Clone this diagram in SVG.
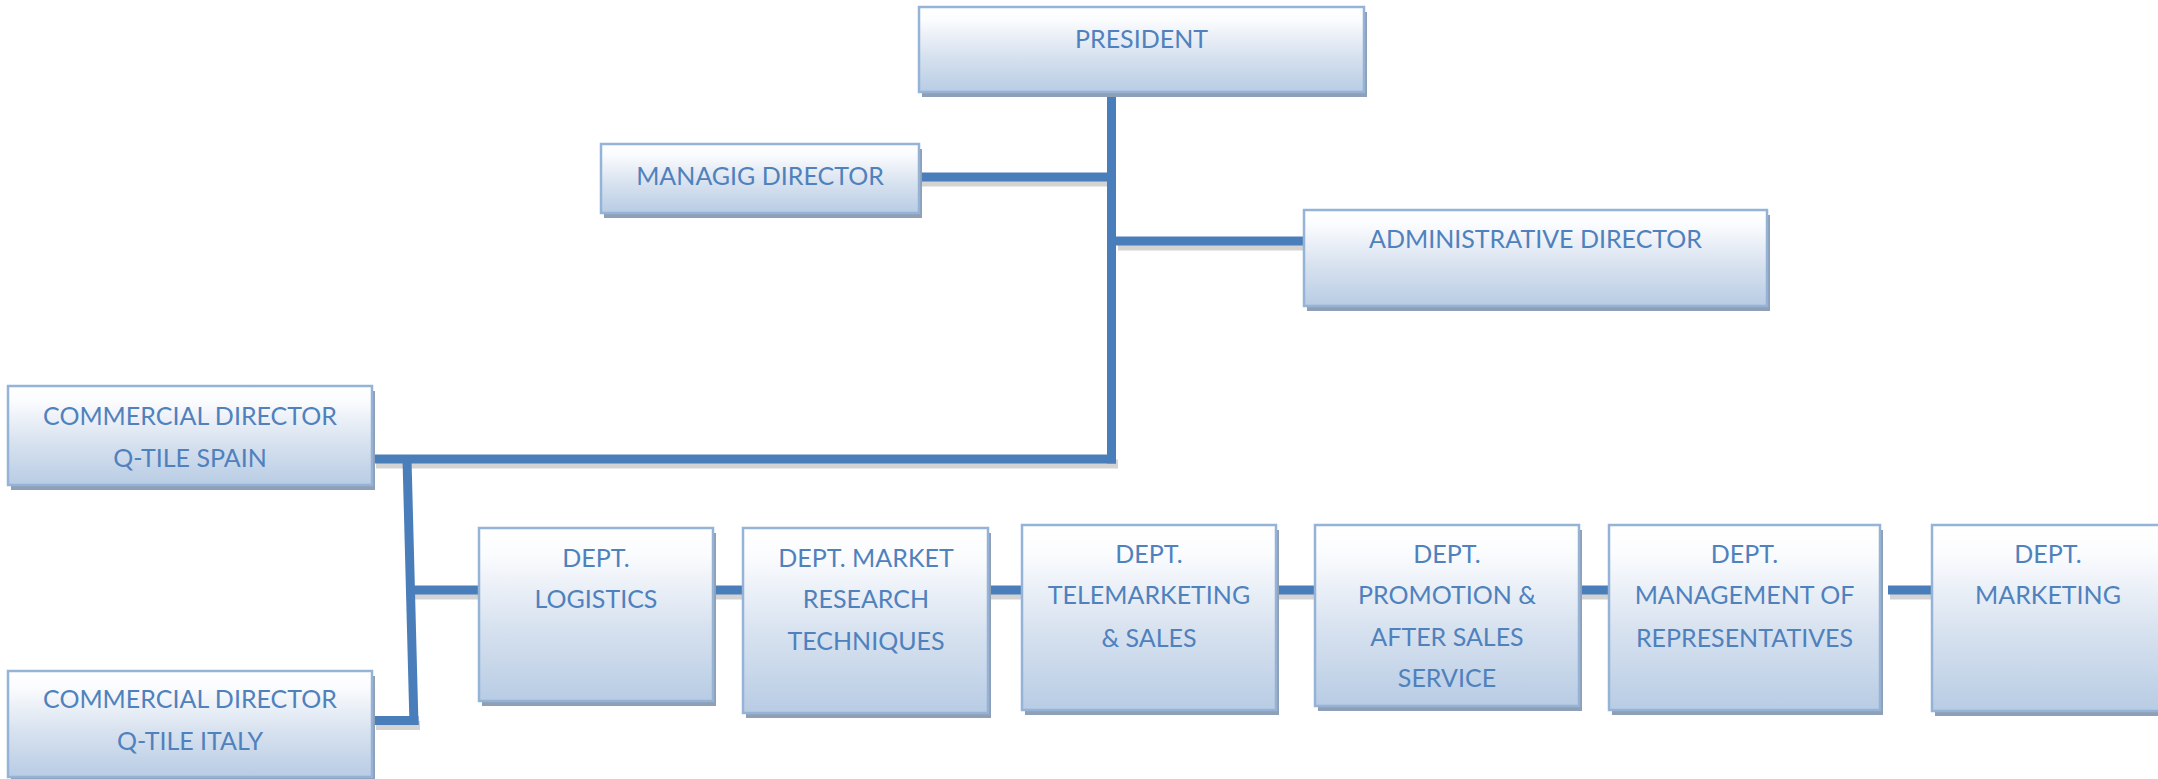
<svg xmlns="http://www.w3.org/2000/svg" width="2158" height="779" viewBox="0 0 2158 779">
  <defs>
    <linearGradient id="boxFill" x1="0" y1="0" x2="0" y2="1">
      <stop offset="0" stop-color="#ffffff"/>
      <stop offset="0.15" stop-color="#fbfcfe"/>
      <stop offset="0.55" stop-color="#d9e3f0"/>
      <stop offset="1" stop-color="#b8cce4"/>
    </linearGradient>
  </defs>
  <style>
    .shadow { fill: #8f9fb5; }
    .box { fill: url(#boxFill); stroke: #95b3d7; stroke-width: 2.5; }
    .label { font-family: "Lato", "Open Sans", sans-serif; font-size: 25px; fill: #4f81bd; text-anchor: middle; }
    .line { stroke: #4a7ebb; stroke-width: 9; fill: none; stroke-linecap: butt; }
    .line-shadow { stroke: #d3d3d3; stroke-width: 9; fill: none; }
  </style>

  <!-- connectors -->
  <g id="connectors">
    <g transform="translate(2,5)">
      <line class="line-shadow" x1="919" y1="177" x2="1107" y2="177"/>
      <line class="line-shadow" x1="1116" y1="241" x2="1304" y2="241"/>
      <line class="line-shadow" x1="374" y1="459" x2="1116" y2="459"/>
      <line class="line-shadow" x1="374" y1="720.5" x2="418" y2="720.5"/>
      <line class="line-shadow" x1="411" y1="590" x2="479" y2="590"/>
      <line class="line-shadow" x1="713" y1="590" x2="743" y2="590"/>
      <line class="line-shadow" x1="988" y1="590" x2="1022" y2="590"/>
      <line class="line-shadow" x1="1276" y1="590" x2="1315" y2="590"/>
      <line class="line-shadow" x1="1579" y1="590" x2="1609" y2="590"/>
      <line class="line-shadow" x1="1888" y1="590" x2="1932" y2="590"/>
    </g>
    <line class="line" x1="1111.5" y1="92" x2="1111.5" y2="463.5"/>
    <line class="line" x1="919" y1="177" x2="1107" y2="177"/>
    <line class="line" x1="1116" y1="241" x2="1304" y2="241"/>
    <line class="line" x1="374" y1="459" x2="1116" y2="459"/>
    <line class="line" x1="407" y1="459" x2="414" y2="725"/>
    <line class="line" x1="374" y1="720.5" x2="418.5" y2="720.5"/>
    <line class="line" x1="411" y1="590" x2="479" y2="590"/>
    <line class="line" x1="713" y1="590" x2="743" y2="590"/>
    <line class="line" x1="988" y1="590" x2="1022" y2="590"/>
    <line class="line" x1="1276" y1="590" x2="1315" y2="590"/>
    <line class="line" x1="1579" y1="590" x2="1609" y2="590"/>
    <line class="line" x1="1888" y1="590" x2="1932" y2="590"/>
  </g>

  <!-- top management -->
  <g id="president">
    <rect class="shadow" x="922" y="12" width="445" height="85"/>
    <rect class="box" x="919" y="7" width="445" height="85"/>
    <text class="label" x="1141.5" y="48">PRESIDENT</text>
  </g>
  <g id="managing-director">
    <rect class="shadow" x="604" y="149" width="318" height="69"/>
    <rect class="box" x="601" y="144" width="318" height="69"/>
    <text class="label" x="760" y="185">MANAGIG DIRECTOR</text>
  </g>
  <g id="administrative-director">
    <rect class="shadow" x="1307" y="215" width="463" height="96"/>
    <rect class="box" x="1304" y="210" width="463" height="96"/>
    <text class="label" x="1535.5" y="248">ADMINISTRATIVE DIRECTOR</text>
  </g>

  <!-- commercial directors -->
  <g id="commercial-spain">
    <rect class="shadow" x="11" y="391" width="364" height="99"/>
    <rect class="box" x="8" y="386" width="364" height="99"/>
    <text class="label" x="190" y="425">COMMERCIAL DIRECTOR</text>
    <text class="label" x="190" y="467">Q-TILE SPAIN</text>
  </g>
  <g id="commercial-italy">
    <rect class="shadow" x="11" y="676" width="364" height="106"/>
    <rect class="box" x="8" y="671" width="364" height="106"/>
    <text class="label" x="190" y="708">COMMERCIAL DIRECTOR</text>
    <text class="label" x="190" y="750">Q-TILE ITALY</text>
  </g>

  <!-- departments -->
  <g id="dept-logistics">
    <rect class="shadow" x="482" y="533" width="234" height="173"/>
    <rect class="box" x="479" y="528" width="234" height="173"/>
    <text class="label" x="596" y="567">DEPT.</text>
    <text class="label" x="596" y="608">LOGISTICS</text>
  </g>
  <g id="dept-market-research">
    <rect class="shadow" x="746" y="533" width="245" height="185"/>
    <rect class="box" x="743" y="528" width="245" height="185"/>
    <text class="label" x="866" y="567">DEPT. MARKET</text>
    <text class="label" x="866" y="608">RESEARCH</text>
    <text class="label" x="866" y="650">TECHNIQUES</text>
  </g>
  <g id="dept-telemarketing">
    <rect class="shadow" x="1025" y="530" width="254" height="185"/>
    <rect class="box" x="1022" y="525" width="254" height="185"/>
    <text class="label" x="1149" y="563">DEPT.</text>
    <text class="label" x="1149" y="604">TELEMARKETING</text>
    <text class="label" x="1149" y="647">&amp; SALES</text>
  </g>
  <g id="dept-promotion">
    <rect class="shadow" x="1318" y="530" width="264" height="181"/>
    <rect class="box" x="1315" y="525" width="264" height="181"/>
    <text class="label" x="1447" y="563">DEPT.</text>
    <text class="label" x="1447" y="604">PROMOTION &amp;</text>
    <text class="label" x="1447" y="646">AFTER SALES</text>
    <text class="label" x="1447" y="687">SERVICE</text>
  </g>
  <g id="dept-representatives">
    <rect class="shadow" x="1612" y="530" width="271" height="185"/>
    <rect class="box" x="1609" y="525" width="271" height="185"/>
    <text class="label" x="1744.5" y="563">DEPT.</text>
    <text class="label" x="1744.5" y="604">MANAGEMENT OF</text>
    <text class="label" x="1744.5" y="647">REPRESENTATIVES</text>
  </g>
  <g id="dept-marketing">
    <rect class="shadow" x="1935" y="530" width="232" height="186"/>
    <rect class="box" x="1932" y="525" width="232" height="186"/>
    <text class="label" x="2048" y="563">DEPT.</text>
    <text class="label" x="2048" y="604">MARKETING</text>
  </g>
</svg>
